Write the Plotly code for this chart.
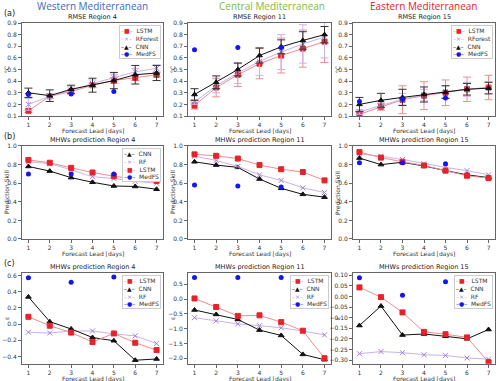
import plotly.graph_objects as go
from plotly.subplots import make_subplots

days = [1, 2, 3, 4, 5, 6, 7]
medfs_days = [1, 3, 5]

# Row (a): RMSE, values and error bars
rmse4_lstm = [0.145, 0.27, 0.31, 0.365, 0.405, 0.43, 0.455]
rmse4_lstm_err = [0.015, 0.02, 0.02, 0.02, 0.025, 0.025, 0.02]
rmse4_rf = [0.20, 0.27, 0.32, 0.38, 0.43, 0.48, 0.51]
rmse4_rf_err = [0.05, 0.02, 0.03, 0.03, 0.03, 0.03, 0.03]
rmse4_cnn = [0.30, 0.275, 0.33, 0.365, 0.405, 0.455, 0.47]
rmse4_cnn_err = [0.04, 0.05, 0.035, 0.06, 0.07, 0.08, 0.065]
rmse4_medfs = [0.285, 0.29, 0.31]

rmse11_lstm = [0.19, 0.345, 0.455, 0.55, 0.62, 0.68, 0.74]
rmse11_lstm_err = [0.03, 0.08, 0.10, 0.13, 0.15, 0.16, 0.18]
rmse11_rf = [0.22, 0.36, 0.47, 0.57, 0.65, 0.72, 0.78]
rmse11_rf_err = [0.02, 0.06, 0.09, 0.12, 0.15, 0.165, 0.18]
rmse11_cnn = [0.285, 0.39, 0.50, 0.62, 0.695, 0.75, 0.80]
rmse11_cnn_err = [0.05, 0.055, 0.055, 0.065, 0.06, 0.075, 0.07]
rmse11_medfs = [0.67, 0.69, 0.69]

rmse15_lstm = [0.115, 0.18, 0.24, 0.275, 0.30, 0.33, 0.345]
rmse15_lstm_err = [0.02, 0.03, 0.12, 0.12, 0.11, 0.105, 0.105]
rmse15_rf = [0.135, 0.19, 0.245, 0.28, 0.31, 0.33, 0.345]
rmse15_rf_err = [0.02, 0.02, 0.05, 0.05, 0.05, 0.06, 0.05]
rmse15_cnn = [0.20, 0.235, 0.26, 0.285, 0.305, 0.33, 0.34]
rmse15_cnn_err = [0.06, 0.06, 0.07, 0.065, 0.055, 0.05, 0.05]
rmse15_medfs = [0.225, 0.245, 0.255]

# Row (b): prediction skill
skill4_cnn = [0.78, 0.73, 0.66, 0.61, 0.57, 0.565, 0.535]
skill4_rf = [0.83, 0.81, 0.745, 0.67, 0.65, 0.62, 0.60]
skill4_lstm = [0.85, 0.82, 0.765, 0.715, 0.675, 0.645, 0.625]
skill4_medfs = [0.70, 0.70, 0.70]

skill11_lstm = [0.91, 0.895, 0.865, 0.795, 0.75, 0.72, 0.63]
skill11_rf = [0.89, 0.845, 0.78, 0.69, 0.63, 0.55, 0.50]
skill11_cnn = [0.83, 0.795, 0.77, 0.645, 0.545, 0.48, 0.45]
skill11_medfs = [0.58, 0.57, 0.56]

skill15_lstm = [0.935, 0.875, 0.83, 0.79, 0.735, 0.68, 0.655]
skill15_rf = [0.915, 0.89, 0.855, 0.81, 0.77, 0.735, 0.69]
skill15_cnn = [0.87, 0.80, 0.825, 0.785, 0.735, 0.69, 0.66]
skill15_medfs = [0.82, 0.82, 0.81]

# Row (c): epsilon
eps4_lstm = [0.09, -0.02, -0.105, -0.22, -0.115, -0.23, -0.32]
eps4_cnn = [0.335, 0.03, -0.06, -0.165, -0.205, -0.445, -0.43]
eps4_rf = [-0.10, -0.11, -0.085, -0.085, -0.12, -0.145, -0.24]
eps4_medfs = [0.57, 0.515, 0.58]

eps11_lstm = [0.02, -0.27, -0.57, -0.55, -0.78, -1.07, -2.0]
eps11_cnn = [-0.37, -0.52, -0.69, -1.05, -1.23, -1.87, -2.05]
eps11_rf = [-0.63, -0.74, -0.84, -0.90, -0.97, -1.08, -1.21]
eps11_medfs = [0.73, 0.73, 0.73]

eps15_lstm = [0.043, -0.003, -0.075, -0.167, -0.178, -0.193, -0.31]
eps15_cnn = [-0.137, -0.045, -0.182, -0.177, -0.188, -0.20, -0.156]
eps15_rf = [-0.27, -0.26, -0.265, -0.275, -0.278, -0.29, -0.296]
eps15_medfs = [0.088, 0.006, 0.07]

# styles
RED, RED_L = "#e8222a", "#f08c8c"
BLK = "#111111"
PUR, PUR_L = "#a57fd6", "#c9b3ea"
BLU = "#1515f0"

fig = make_subplots(rows=3, cols=3)

col_dom = [[0.044, 0.326], [0.376, 0.662], [0.706, 0.99]]
row_dom = [[0.6955, 0.9396], [0.3727, 0.6168], [0.045, 0.2835]]


def add_model(r, c, y, kind, err=None):
    if kind == "lstm":
        line, mk, sym, ec = RED_L, RED, "square", RED_L
    elif kind == "rf":
        line, mk, sym, ec = PUR_L, PUR, "x-thin", PUR_L
    else:
        line, mk, sym, ec = BLK, BLK, "triangle-up", "#333333"
    eb = None
    if err is not None:
        eb = dict(type="data", array=err, color=ec, thickness=1, width=4)
    fig.add_trace(go.Scatter(
        x=days, y=y, mode="lines+markers", showlegend=False,
        line=dict(color=line, width=1),
        marker=dict(color=mk, symbol=sym, size=5, line=dict(color=mk, width=1)),
        error_y=eb), row=r, col=c)


def add_medfs(r, c, y):
    fig.add_trace(go.Scatter(
        x=medfs_days, y=y, mode="markers", showlegend=False,
        marker=dict(color=BLU, size=5)), row=r, col=c)


# row 1
add_model(1, 1, rmse4_lstm, "lstm", rmse4_lstm_err)
add_model(1, 1, rmse4_rf, "rf", rmse4_rf_err)
add_model(1, 1, rmse4_cnn, "cnn", rmse4_cnn_err)
add_medfs(1, 1, rmse4_medfs)
add_model(1, 2, rmse11_lstm, "lstm", rmse11_lstm_err)
add_model(1, 2, rmse11_rf, "rf", rmse11_rf_err)
add_model(1, 2, rmse11_cnn, "cnn", rmse11_cnn_err)
add_medfs(1, 2, rmse11_medfs)
add_model(1, 3, rmse15_lstm, "lstm", rmse15_lstm_err)
add_model(1, 3, rmse15_rf, "rf", rmse15_rf_err)
add_model(1, 3, rmse15_cnn, "cnn", rmse15_cnn_err)
add_medfs(1, 3, rmse15_medfs)

# row 2
for c, (cn, rf, l, md) in [(1, (skill4_cnn, skill4_rf, skill4_lstm, skill4_medfs)),
                           (2, (skill11_cnn, skill11_rf, skill11_lstm, skill11_medfs)),
                           (3, (skill15_cnn, skill15_rf, skill15_lstm, skill15_medfs))]:
    add_model(2, c, cn, "cnn")
    add_model(2, c, rf, "rf")
    add_model(2, c, l, "lstm")
    add_medfs(2, c, md)

# row 3
for c, (l, cn, rf, md) in [(1, (eps4_lstm, eps4_cnn, eps4_rf, eps4_medfs)),
                           (2, (eps11_lstm, eps11_cnn, eps11_rf, eps11_medfs)),
                           (3, (eps15_lstm, eps15_cnn, eps15_rf, eps15_medfs))]:
    add_model(3, c, rf, "rf")
    add_model(3, c, cn, "cnn")
    add_model(3, c, l, "lstm")
    add_medfs(3, c, md)

tickfont = dict(size=6, color="#333333", family="DejaVu Sans")
axis_common = dict(showline=True, mirror=True, linecolor="#666666", linewidth=1,
                   ticks="outside", ticklen=3, tickcolor="#666666",
                   showgrid=False, zeroline=False, tickfont=tickfont, automargin=False)

yranges = {
    (1, 1): [0.1, 0.9], (1, 2): [0.1, 0.9], (1, 3): [0.1, 0.9],
    (2, 1): [0, 1], (2, 2): [0, 1], (2, 3): [0, 1],
    (3, 1): [-0.49, 0.63], (3, 2): [-2.19, 0.88], (3, 3): [-0.318, 0.111],
}

for r in range(1, 4):
    for c in range(1, 4):
        i = (r - 1) * 3 + c
        xa = "xaxis" if i == 1 else f"xaxis{i}"
        ya = "yaxis" if i == 1 else f"yaxis{i}"
        if r == 1:
            dt, fmt = 0.1, ".1f"
        elif r == 2:
            dt, fmt = 0.2, ".1f"
        else:
            dt, fmt = {1: (0.2, ".1f"), 2: (0.5, ".1f"), 3: (0.05, ".2f")}[c]
        fig.layout[xa].update(domain=col_dom[c - 1], range=[0.7, 7.3],
                              tickvals=days, **axis_common)
        fig.layout[ya].update(domain=row_dom[r - 1], range=yranges[(r, c)],
                              dtick=dt, tick0=0, tickformat=fmt, **axis_common)

ann = []
# column headers
for txt, xc, colr in [("Western Mediterranean", 0.185, "#3b6cb7"),
                      ("Central Mediterranean", 0.544, "#7dbb42"),
                      ("Eastern Mediterranean", 0.846, "#e0242a")]:
    ann.append(dict(text=txt, x=xc, y=1 - 6 / 381, xref="paper", yref="paper",
                    showarrow=False, font=dict(size=10, color=colr, family="Open Sans"),
                    xanchor="center", yanchor="middle"))
# panel letters
for txt, ypix in [("(a)", 13), ("(b)", 137), ("(c)", 263)]:
    ann.append(dict(text=txt, x=2 / 500, y=1 - ypix / 381, xref="paper", yref="paper",
                    showarrow=False, font=dict(size=8, color="#222222", family="DejaVu Sans"),
                    xanchor="left", yanchor="middle"))
# subplot titles and axis titles
titles = [["RMSE Region 4", "RMSE Region 11", "RMSE Region 15"],
          ["MHWs prediction Region 4", "MHWs prediction Region 11", "MHWs prediction Region 15"],
          ["MHWs prediction Region 4", "MHWs prediction Region 11", "MHWs prediction Region 15"]]
ylabels = ["°C", "Prediction Skill", "ε"]
for r in range(3):
    for c in range(3):
        xc = (col_dom[c][0] + col_dom[c][1]) / 2
        ann.append(dict(text=titles[r][c], x=xc, y=row_dom[r][1] + 0.001,
                        xref="paper", yref="paper", showarrow=False,
                        xanchor="center", yanchor="bottom",
                        font=dict(size=6.5, color="#222222", family="DejaVu Sans")))
        ann.append(dict(text="Forecast Lead [days]", x=xc, y=row_dom[r][0] - 0.024,
                        xref="paper", yref="paper", showarrow=False,
                        xanchor="center", yanchor="top",
                        font=dict(size=6, color="#333333", family="DejaVu Sans")))
        ann.append(dict(text=ylabels[r], x=col_dom[c][0] - 0.031,
                        y=(row_dom[r][0] + row_dom[r][1]) / 2,
                        xref="paper", yref="paper", showarrow=False, textangle=-90,
                        xanchor="center", yanchor="middle",
                        font=dict(size=6, color="#333333", family="DejaVu Sans")))

# compact legends as text boxes
glyph = {
    "LSTM": f"<span style='color:{RED_L}'>–</span><span style='color:{RED}'>■</span><span style='color:{RED_L}'>–</span>",
    "RForest": f"<span style='color:{PUR_L}'>–</span><span style='color:{PUR}'>×</span><span style='color:{PUR_L}'>–</span>",
    "RF": f"<span style='color:{PUR_L}'>–</span><span style='color:{PUR}'>×</span><span style='color:{PUR_L}'>–</span>",
    "CNN": f"<span style='color:{BLK}'>–▲–</span>",
    "MedFS": f"<span style='color:{BLU}'>–●–</span>",
}
legends = [
    (0, 0, ["LSTM", "RForest", "CNN", "MedFS"]),
    (0, 2, ["LSTM", "RForest", "CNN", "MedFS"]),
    (1, 0, ["CNN", "RF", "LSTM", "MedFS"]),
    (2, 0, ["LSTM", "CNN", "RF", "MedFS"]),
    (2, 1, ["LSTM", "CNN", "RF", "MedFS"]),
    (2, 2, ["LSTM", "CNN", "RF", "MedFS"]),
]
for r, c, names in legends:
    txt = "<br>".join(f"{glyph[n]}  {n}" for n in names)
    ann.append(dict(text=txt, x=col_dom[c][1] - 0.004, y=row_dom[r][1] - 0.006,
                    xref="paper", yref="paper", showarrow=False, align="left",
                    xanchor="right", yanchor="top", bgcolor="white",
                    bordercolor="#cccccc", borderwidth=1, borderpad=1,
                    font=dict(size=6, color="#333333", family="DejaVu Sans")))

fig.update_layout(annotations=ann, width=500, height=381,
                  margin=dict(l=0, r=0, t=0, b=0), showlegend=False,
                  paper_bgcolor="white", plot_bgcolor="white")

fig.write_html("out.html", config={"displayModeBar": False},
               post_script="document.body.style.margin='0';")
